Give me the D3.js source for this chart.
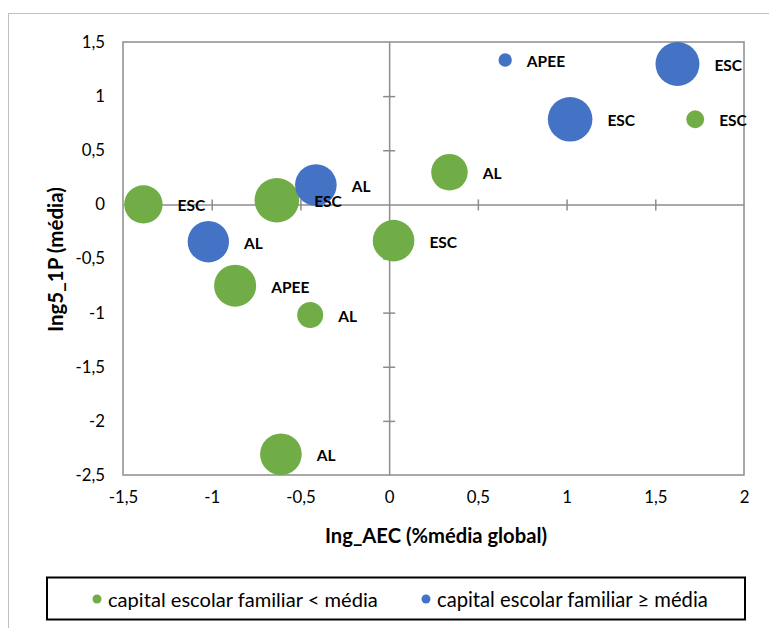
<!DOCTYPE html>
<html>
<head>
<meta charset="utf-8">
<script src="https://cdn.jsdelivr.net/npm/d3@7/dist/d3.min.js"></script>
<style>
  html, body { margin: 0; padding: 0; background: #fff; }
  svg { display: block; font-family: Lato, "Liberation Sans", sans-serif; }
</style>
</head>
<body>
<svg id="chart" width="769" height="628"></svg>
<script>
// ---- data ----
const labels = ["ESC", "ESC", "AL", "AL", "ESC", "APEE", "ESC", "ESC", "ESC", "AL", "APEE", "AL", "AL"];
const groups = ["lt", "lt", "ge", "ge", "lt", "ge", "ge", "ge", "lt", "lt", "lt", "lt", "lt"];
const xValues = [-1.385, -0.633, -0.413, -1.019, 0.025, 0.654, 1.625, 1.02, 1.725, 0.34, -0.868, -0.445, -0.61];
const yValues = [0.0, 0.038, 0.179, -0.345, -0.335, 1.334, 1.297, 0.786, 0.786, 0.297, -0.751, -1.022, -2.309];
const sizes = [74, 100, 87, 86, 87, 9, 97, 100, 16, 67, 89, 34, 87];
const xTicks = [-1.5, -1, -0.5, 0, 0.5, 1, 1.5, 2];
const yTicks = [1.5, 1, 0.5, 0, -0.5, -1, -1.5, -2, -2.5];
const seriesKeys = ["lt", "ge"];
const seriesNames = ["capital escolar familiar < média", "capital escolar familiar \u2265 média"];
const seriesColors = ["#70AD47", "#4472C4"];
const xTitle = "Ing_AEC (%média global)";
const yTitle = "Ing5_1P (média)";

// ---- layout ----
const svg = d3.select("#chart");
const plot = { left: 123, top: 42, right: 744, bottom: 475 };
const fmt = d => String(d).replace(".", ",");

// scale a text's font size so that it spans a given width
function fit(sel, width) {
  sel.each(function () {
    const t = d3.select(this);
    const fs = parseFloat(t.attr("font-size"));
    const w = this.getComputedTextLength();
    if (w > 0) t.attr("font-size", (fs * width / w).toFixed(2));
  });
}

const x = d3.scaleLinear().domain([-1.5, 2]).range([plot.left, plot.right]);
const y = d3.scaleLinear().domain([-2.5, 1.5]).range([plot.bottom, plot.top]);
const r = d3.scaleSqrt().domain([0, 100]).range([0, 22.3]);
const color = d3.scaleOrdinal().domain(seriesKeys).range(seriesColors);

// outer chart border (extends past the viewport on right/bottom)
svg.append("rect")
  .attr("x", 8.5).attr("y", 13.5).attr("width", 900).attr("height", 900)
  .attr("fill", "none").attr("stroke", "#BFBFBF").attr("stroke-width", 1);

// plot area border
svg.append("rect")
  .attr("x", plot.left).attr("y", plot.top)
  .attr("width", plot.right - plot.left).attr("height", plot.bottom - plot.top)
  .attr("fill", "none").attr("stroke", "#8C8C8C").attr("stroke-width", 1.5);

// axes crossing at zero, with cross ticks
const xAxisG = svg.append("g").attr("transform", `translate(0,${y(0)})`)
  .call(d3.axisBottom(x).tickValues(xTicks.filter(t => t > -1.5 && t < 2 && t !== 0)).tickSize(0).tickFormat(""));
xAxisG.select(".domain").attr("stroke", "#8C8C8C").attr("stroke-width", 1.5);
xAxisG.selectAll(".tick line").attr("y1", -5).attr("y2", 6).attr("stroke", "#8C8C8C").attr("stroke-width", 1.5);

const yAxisG = svg.append("g").attr("transform", `translate(${x(0)},0)`)
  .call(d3.axisLeft(y).tickValues(yTicks.filter(t => t > -2.5 && t < 1.5 && t !== 0)).tickSize(0).tickFormat(""));
yAxisG.select(".domain").attr("stroke", "#8C8C8C").attr("stroke-width", 1.5);
yAxisG.selectAll(".tick line").attr("x1", -6).attr("x2", 6).attr("stroke", "#8C8C8C").attr("stroke-width", 1.5);

// tick labels at the plot edges (low position)
const yLab = svg.append("g").attr("transform", `translate(${plot.left},0)`)
  .call(d3.axisLeft(y).tickValues(yTicks).tickSize(0).tickPadding(18).tickFormat(fmt));
yLab.select(".domain").remove();
yLab.selectAll("text").attr("font-family", "Lato, sans-serif").attr("font-size", 16.8).attr("fill", "#000");

const xLab = svg.append("g").attr("transform", `translate(0,${plot.bottom})`)
  .call(d3.axisBottom(x).tickValues(xTicks).tickSize(0).tickPadding(16).tickFormat(fmt));
xLab.select(".domain").remove();
xLab.selectAll("text").attr("font-family", "Lato, sans-serif").attr("font-size", 16.8).attr("fill", "#000");

// axis titles
svg.append("text")
  .attr("x", 436).attr("y", 535)
  .attr("text-anchor", "middle").attr("dominant-baseline", "central")
  .attr("font-weight", "bold").attr("font-size", 17).text(xTitle)
  .call(fit, 222);

svg.append("text")
  .attr("transform", `translate(55,259.5) rotate(-90)`)
  .attr("text-anchor", "middle").attr("dominant-baseline", "central")
  .attr("font-weight", "bold").attr("font-size", 17).text(yTitle)
  .call(fit, 145);

// bubbles
const data = labels.map((l, i) => ({ label: l, g: groups[i], x: xValues[i], y: yValues[i], s: sizes[i] }));
const bubbles = svg.append("g");
bubbles.selectAll("circle").data(data).join("circle")
  .attr("cx", d => x(d.x)).attr("cy", d => y(d.y)).attr("r", d => r(d.s))
  .attr("fill", d => color(d.g));

bubbles.selectAll("text").data(data).join("text")
  .attr("x", d => x(d.x) + r(d.s) + 15).attr("y", d => y(d.y) + 1)
  .attr("dominant-baseline", "central")
  .attr("font-weight", "bold").attr("font-size", 15.5).attr("fill", "#000")
  .text(d => d.label);

// legend
const lg = svg.append("g");
lg.append("rect").attr("x", 47).attr("y", 577.5).attr("width", 698).attr("height", 42)
  .attr("fill", "#fff").attr("stroke", "#000").attr("stroke-width", 2);
const legendX = [97, 426];
const legendW = [270, 271];
seriesKeys.forEach((k, i) => {
  lg.append("circle").attr("cx", legendX[i]).attr("cy", 599).attr("r", 4.5).attr("fill", seriesColors[i]);
  lg.append("text").attr("x", legendX[i] + 11).attr("y", 599)
    .attr("dominant-baseline", "central").attr("font-size", 17).attr("fill", "#000")
    .text(seriesNames[i])
    .call(fit, legendW[i]);
});
</script>
</body>
</html>
